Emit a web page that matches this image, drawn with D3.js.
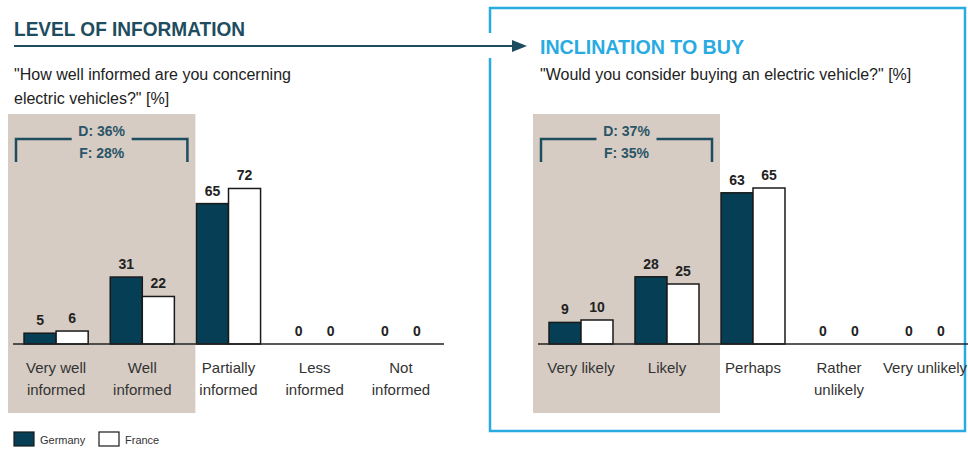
<!DOCTYPE html>
<html>
<head>
<meta charset="utf-8">
<script src="https://cdn.jsdelivr.net/npm/d3@7"></script>
<style>
  html, body { margin: 0; padding: 0; background: #fff; }
  svg { display: block; font-family: "Liberation Sans", Arial, sans-serif; }
</style>
</head>
<body>
<svg id="chart" width="968" height="449"></svg>
<script>
// Survey answers, Germany vs France [%]
const series = ["Germany", "France"];

const infoCategories = [["Very well", "informed"], ["Well", "informed"], ["Partially", "informed"], ["Less", "informed"], ["Not", "informed"]];
const infoGermany = [5, 31, 65, 0, 0];
const infoFrance = [6, 22, 72, 0, 0];
const infoTopTwo = ["D: 36%", "F: 28%"];

const buyCategories = [["Very likely"], ["Likely"], ["Perhaps"], ["Rather", "unlikely"], ["Very unlikely"]];
const buyGermany = [9, 28, 63, 0, 0];
const buyFrance = [10, 25, 65, 0, 0];
const buyTopTwo = ["D: 37%", "F: 35%"];

const DARK = "#063f55";
const NAVY_TEXT = "#1e4d60";
const BLUE = "#29abe2";
const SHADE = "#d6ccc3";
const INK = "#222";

const svg = d3.select("#chart");

// Frame around the second panel, open where the arrow enters
svg.append("path")
  .attr("d", "M490,33 V8 H965 V431 H490 V58")
  .attr("fill", "none").attr("stroke", BLUE).attr("stroke-width", 2.5);

// Titles
svg.append("text").attr("x", 14).attr("y", 36)
  .attr("font-size", 21).attr("font-weight", "bold").attr("fill", NAVY_TEXT)
  .attr("textLength", 231).attr("lengthAdjust", "spacingAndGlyphs")
  .text("LEVEL OF INFORMATION");
svg.append("text").attr("x", 540).attr("y", 54)
  .attr("font-size", 21).attr("font-weight", "bold").attr("fill", BLUE)
  .attr("textLength", 204).attr("lengthAdjust", "spacingAndGlyphs")
  .text("INCLINATION TO BUY");

// Arrow linking the two panels
svg.append("line").attr("x1", 14).attr("x2", 514).attr("y1", 46).attr("y2", 46)
  .attr("stroke", NAVY_TEXT).attr("stroke-width", 2);
svg.append("path").attr("d", "M512,40 L527,46 L512,52 Z").attr("fill", NAVY_TEXT);

// Questions
const q1 = svg.append("text").attr("font-size", 16).attr("fill", INK);
q1.append("tspan").attr("x", 14).attr("y", 80).text("\"How well informed are you concerning");
q1.append("tspan").attr("x", 14).attr("y", 104).text("electric vehicles?\" [%]");
svg.append("text").attr("x", 540).attr("y", 80).attr("font-size", 16).attr("fill", INK)
  .text("\"Would you consider buying an electric vehicle?\" [%]");

function panel(cfg) {
  const idx = d3.range(cfg.categories.length);
  const x = d3.scaleBand().domain(idx).range(cfg.xRange);
  const xs = d3.scaleBand().domain(series).range([0, x.bandwidth()]).paddingOuter(0.344);
  const y = d3.scaleLinear().domain([0, 100]).range([cfg.base, cfg.base - cfg.pxPer100]);
  const g = svg.append("g");

  // Shaded block over the two most positive answers
  g.append("rect")
    .attr("x", x(0) - 5).attr("y", 114)
    .attr("width", x(2) + 10 - (x(0) - 5)).attr("height", 413 - 114)
    .attr("fill", SHADE);

  // Bracket with combined share
  const bx0 = x(0) + 3, bx1 = x(2) + 2, by = 139, bmid = (bx0 + bx1) / 2;
  g.append("path")
    .attr("d", `M${bx0},162 V${by} H${bmid - 30} M${bmid + 30},${by} H${bx1} V162`)
    .attr("fill", "none").attr("stroke", NAVY_TEXT).attr("stroke-width", 2.5);
  g.selectAll("text.top2").data(cfg.topTwo).join("text")
    .attr("class", "top2")
    .attr("x", bmid).attr("y", (d, i) => 136 + i * 22)
    .attr("text-anchor", "middle").attr("font-size", 14).attr("font-weight", "bold")
    .attr("fill", "#2b5567").text(d => d);

  const rows = idx.map(i => series.map((s, k) => ({ i, s, v: (k === 0 ? cfg.germany : cfg.france)[i] })));
  const flat = rows.flat();

  g.selectAll("rect.bar").data(flat.filter(d => d.v > 0)).join("rect")
    .attr("class", "bar")
    .attr("x", d => x(d.i) + xs(d.s)).attr("width", xs.bandwidth())
    .attr("y", d => y(d.v)).attr("height", d => y(0) - y(d.v))
    .attr("fill", d => d.s === "Germany" ? DARK : "#fff")
    .attr("stroke", "#1a1a1a").attr("stroke-width", 1.5);

  g.selectAll("text.val").data(flat).join("text")
    .attr("class", "val")
    .attr("x", d => x(d.i) + xs(d.s) + xs.bandwidth() / 2)
    .attr("y", d => y(d.v) - 8)
    .attr("text-anchor", "middle").attr("font-size", 14).attr("font-weight", "bold")
    .attr("fill", INK).text(d => d.v);

  // Baseline
  g.append("line").attr("x1", cfg.xRange[0]).attr("x2", cfg.xRange[1])
    .attr("y1", y(0)).attr("y2", y(0)).attr("stroke", "#222").attr("stroke-width", 1.5);

  // Category labels
  const lab = g.selectAll("text.cat").data(idx).join("text")
    .attr("class", "cat").attr("text-anchor", "middle")
    .attr("font-size", 15).attr("fill", "#333");
  lab.selectAll("tspan").data(i => cfg.categories[i].map(t => ({ t, i }))).join("tspan")
    .attr("x", d => x(d.i) + x.bandwidth() / 2)
    .attr("y", (d, j) => 373 + j * 22)
    .text(d => d.t);
}

panel({ categories: infoCategories, germany: infoGermany, france: infoFrance, topTwo: infoTopTwo,
        xRange: [13, 444], base: 344, pxPer100: 216 });
panel({ categories: buyCategories, germany: buyGermany, france: buyFrance, topTwo: buyTopTwo,
        xRange: [538, 968], base: 344, pxPer100: 240 });

// Legend
const leg = svg.append("g").attr("font-size", 11).attr("fill", "#333");
const legX = [14, 99];
series.forEach((s, k) => {
  leg.append("rect").attr("x", legX[k]).attr("y", 432).attr("width", 20).attr("height", 14)
    .attr("fill", k === 0 ? DARK : "#fff").attr("stroke", "#1a1a1a").attr("stroke-width", 1.2);
  leg.append("text").attr("x", legX[k] + 26).attr("y", 444).text(s);
});
</script>
</body>
</html>
